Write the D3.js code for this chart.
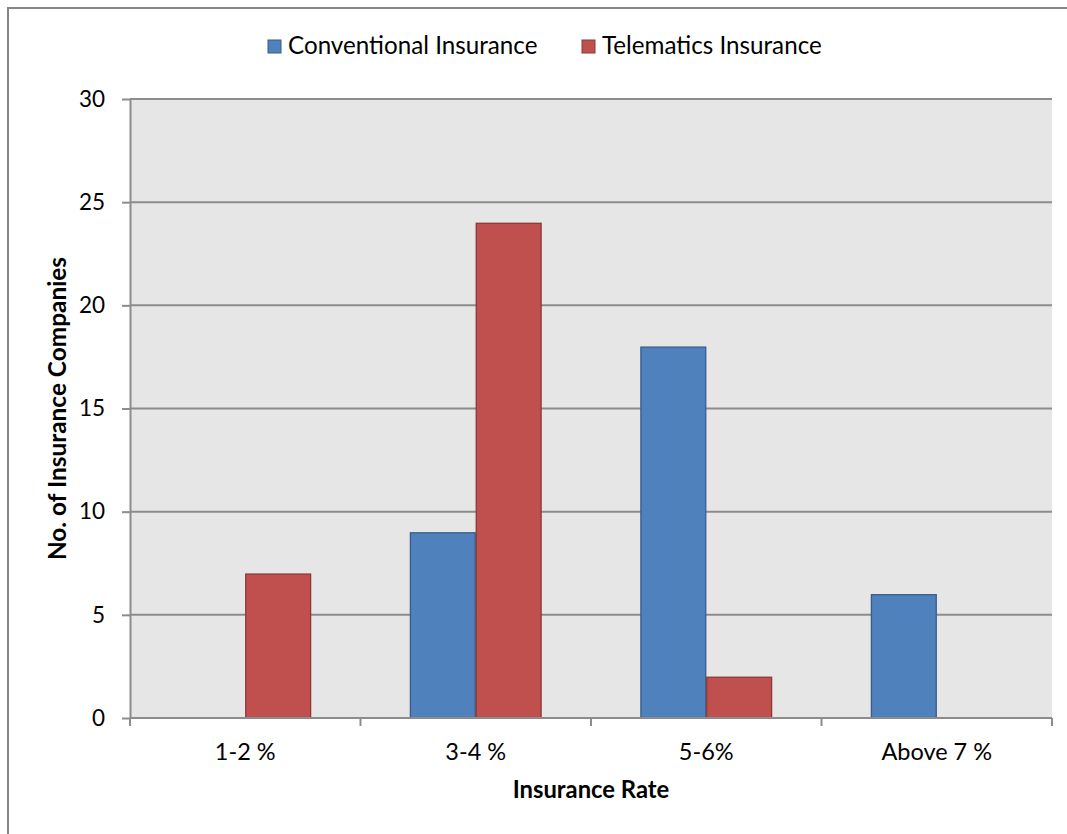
<!DOCTYPE html>
<html>
<head>
<meta charset="utf-8">
<script src="https://cdn.jsdelivr.net/npm/d3@7"></script>
<style>
  html, body { margin: 0; padding: 0; background: #fff; overflow: hidden; }
  svg { display: block; font-family: Lato, "Open Sans", sans-serif; }
</style>
</head>
<body>
<svg id="chart" width="1067" height="834"></svg>
<script>
const categories = ["1-2 %", "3-4 %", "5-6%", "Above 7 %"];
const seriesNames = ["Conventional Insurance", "Telematics Insurance"];
const conventional = [0, 9, 18, 6];
const telematics = [7, 24, 2, 0];
const yTicks = [0, 5, 10, 15, 20, 25, 30];
const xTitle = "Insurance Rate";
const yTitle = "No. of Insurance Companies";

const colors = ["#4F81BD", "#C0504D"];
const strokes = ["#385D8A", "#8C3836"];

const svg = d3.select("#chart");
const W = 1067, H = 834;
const plot = { left: 130, right: 1052, top: 99, bottom: 718 };

// outer chart border: only the left and top edges fall inside the picture
svg.append("path")
  .attr("d", `M8,${H + 5} L8,8 L${W + 5},8`)
  .attr("fill", "none").attr("stroke", "#868686").attr("stroke-width", 2);

const x0 = d3.scaleBand().domain(categories).range([plot.left, plot.right]).paddingInner(0).paddingOuter(0);
const x1 = d3.scaleBand().domain(seriesNames).range([0, x0.bandwidth()]).paddingInner(0).paddingOuter(0.75);
const y = d3.scaleLinear().domain([0, 30]).range([plot.bottom, plot.top]);

// plot background
svg.append("rect")
  .attr("x", plot.left).attr("y", plot.top)
  .attr("width", plot.right - plot.left).attr("height", plot.bottom - plot.top)
  .attr("fill", "#E6E6E6");

// gridlines
svg.append("g").selectAll("line").data(yTicks.filter(d => d > 0)).join("line")
  .attr("x1", plot.left).attr("x2", plot.right)
  .attr("y1", d => y(d)).attr("y2", d => y(d))
  .attr("stroke", "#8C8C8C").attr("stroke-width", 2);

// bars
const data = [conventional, telematics];
const gBars = svg.append("g");
categories.forEach((c, i) => {
  seriesNames.forEach((s, j) => {
    const v = data[j][i];
    if (v <= 0) return;
    gBars.append("rect")
      .attr("x", x0(c) + x1(s) + 0.5)
      .attr("y", y(v) + 0.5)
      .attr("width", x1.bandwidth() - 1)
      .attr("height", y(0) - y(v) - 0.5)
      .attr("fill", colors[j])
      .attr("stroke", strokes[j]).attr("stroke-width", 1.3);
  });
});

// y axis
const yAxis = d3.axisLeft(y).tickValues(yTicks).tickSize(8).tickPadding(17).tickSizeOuter(0);
const gy = svg.append("g").attr("transform", `translate(${plot.left},0)`).call(yAxis);
gy.select(".domain").attr("stroke", "#8C8C8C").attr("stroke-width", 2);
gy.selectAll(".tick line").attr("stroke", "#8C8C8C").attr("stroke-width", 2);
gy.selectAll(".tick text").attr("font-size", 22.5).attr("fill", "#000").attr("font-family", "Lato");

// x axis with ticks at category boundaries
const gx = svg.append("g").attr("transform", `translate(0,${plot.bottom})`);
gx.append("line").attr("x1", plot.left).attr("x2", plot.right).attr("y1", 0).attr("y2", 0)
  .attr("stroke", "#8C8C8C").attr("stroke-width", 2);
const bounds = categories.map(c => x0(c)).concat([plot.right]);
gx.selectAll("line.tk").data(bounds).join("line").attr("class", "tk")
  .attr("x1", d => d).attr("x2", d => d).attr("y1", 0).attr("y2", 8)
  .attr("stroke", "#8C8C8C").attr("stroke-width", 2);
gx.selectAll("text.cat").data(categories).join("text").attr("class", "cat")
  .attr("x", d => x0(d) + x0.bandwidth() / 2).attr("y", 42)
  .attr("text-anchor", "middle").attr("font-size", 23.5).attr("fill", "#000")
  .text(d => d);

// axis titles
svg.append("text").attr("x", (plot.left + plot.right) / 2).attr("y", 798)
  .attr("text-anchor", "middle").attr("font-size", 23.8).attr("font-weight", "bold")
  .text(xTitle);
svg.append("text").attr("transform", `translate(66,${(plot.top + plot.bottom) / 2}) rotate(-90)`)
  .attr("text-anchor", "middle").attr("font-size", 24.4).attr("font-weight", "bold")
  .text(yTitle);

// legend
const legend = svg.append("g");
const legX = [268, 582];
seriesNames.forEach((s, j) => {
  legend.append("rect").attr("x", legX[j]).attr("y", 40).attr("width", 13).attr("height", 13)
    .attr("fill", colors[j]).attr("stroke", strokes[j]).attr("stroke-width", 1);
  legend.append("text").attr("x", legX[j] + 20).attr("y", 54)
    .attr("font-size", 24.2).attr("fill", "#000").text(s);
});
</script>
</body>
</html>
